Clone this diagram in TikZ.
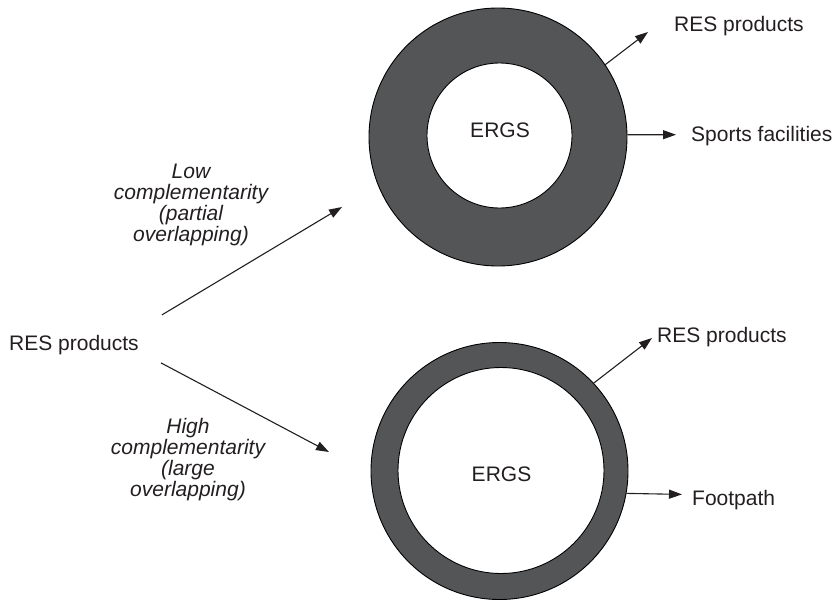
\documentclass[tikz,border=0pt]{standalone}
\usepackage{fontspec}
\setmainfont{Liberation Sans}
\usetikzlibrary{arrows.meta}
\definecolor{ringgray}{RGB}{84,85,87}
\definecolor{ink}{RGB}{35,31,32}
\begin{document}
\begin{tikzpicture}[x=1pt,y=-1pt,
  txt/.style={font=\fontsize{21}{21}\selectfont, text=ink, inner sep=0pt},
  lbl/.style={font=\fontsize{21}{21}\selectfont\itshape, text=ink, inner sep=0pt, align=center},
  ring/.style={circle, draw=black, line width=0.9pt, fill=ringgray, inner sep=0pt},
  core/.style={circle, draw=black, line width=0.9pt, fill=white, inner sep=0pt},
  arr/.style={draw=ink, line width=1.1pt, -{Triangle[length=13pt,width=9pt]}},
]
\useasboundingbox (0,0) rectangle (839,603);

% upper ring: low complementarity
\node[ring, minimum size=258pt] (topring) at (498,137) {};
\node[core, minimum size=145pt] (topcore) at (499.5,135.5) {};
\node[txt, anchor=base] (topergs) at (500,137.7) {ERGS};

% lower ring: high complementarity
\node[ring, minimum size=257pt] (botring) at (499.5,471) {};
\node[core, minimum size=206pt] (botcore) at (501,470.5) {};
\node[txt, anchor=base] (botergs) at (501.5,481.7) {ERGS};

% source
\node[txt, anchor=base west] (src) at (9,350) {RES products};

% outputs of the upper ring
\node[txt, anchor=base west] (topres) at (674,31) {RES products};
\node[txt, anchor=base west] (topsport) at (691,141.5) {Sports facilities};
\coordinate (topresend) at (648,32);
\coordinate (topsportend) at (676,134.7);
\draw[arr] (topring.34) -- (topresend);
\draw[arr] (topring.1) -- (topsportend);

% outputs of the lower ring
\node[txt, anchor=base west] (botres) at (657,342.7) {RES products};
\node[txt, anchor=base west] (botfoot) at (692,505) {Footpath};
\coordinate (botresend) at (652,338);
\coordinate (botfootend) at (682,494.4);
\draw[arr] (botring.43) -- (botresend);
\draw[arr] (botring.-10.5) -- (botfootend);

% branches from the source
\coordinate (topin) at (342,207);
\coordinate (botin) at (329,452);
\draw[arr] ([shift={(23,-29.7)}]src.east) -- (topin);
\draw[arr] ([shift={(22,18.3)}]src.east) -- (botin);

\node[lbl] (lowlbl) at (191,205.3) {Low\\complementarity\\(partial\\overlapping)};
\node[lbl] (highlbl) at (188,459.3) {High\\complementarity\\(large\\overlapping)};
\end{tikzpicture}
\end{document}
